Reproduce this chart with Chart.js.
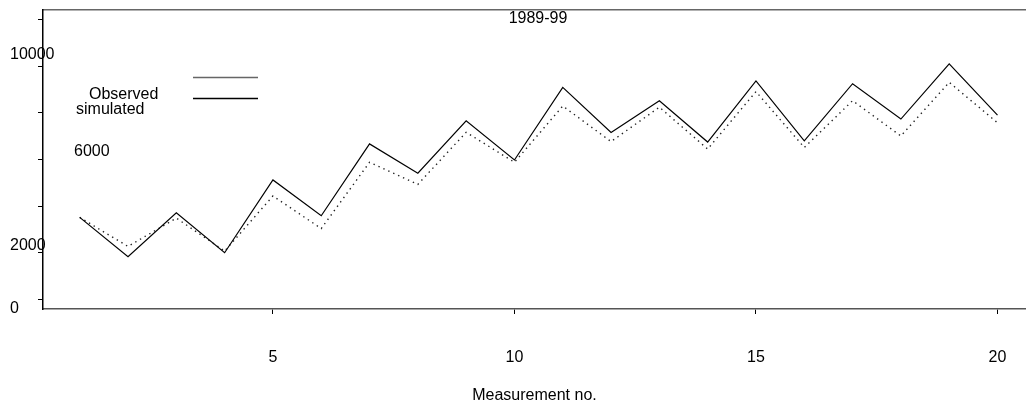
<!DOCTYPE html>
<html>
<head>
<meta charset="utf-8">
<script src="https://cdn.jsdelivr.net/npm/chart.js@4.4.1/dist/chart.umd.min.js"></script>
<style>
  html, body { margin: 0; padding: 0; background: #fff; overflow: hidden; }
</style>
</head>
<body>
<canvas id="grafico" width="1026" height="408"></canvas>
<script>
// medições 1..20, valores observados e simulados
const medicoes = [1, 2, 3, 4, 5, 6, 7, 8, 9, 10, 11, 12, 13, 14, 15, 16, 17, 18, 19, 20];
const observado = [3510, 1820, 3710, 1990, 5120, 3580, 6670, 5410, 7660, 5980,
                   9100, 7160, 8530, 6750, 9380, 6800, 9260, 7740, 10110, 7910];
const simulado = [3510, 2260, 3480, 2060, 4430, 3030, 5880, 4930, 7170, 5880,
                  8300, 6770, 8250, 6450, 8920, 6520, 8530, 7010, 9320, 7580];
const ticksX = [5, 10, 15, 20];
const ticksY = [0, 2000, 4000, 6000, 8000, 10000, 12000];
const rotulosY = ['10000', '6000', '2000', '0'];
const legenda = ['Observed', 'simulated'];
const titulo = '1989-99';
const tituloX = 'Measurement no.';

const fonte = '"Liberation Sans", Arial, sans-serif';
Chart.defaults.font.family = fonte;
Chart.defaults.font.size = 16;
Chart.defaults.color = '#000';

function pontos(valores) {
    return medicoes.map((m, i) => ({ x: m, y: valores[i] }));
}

// textos soltos: título, legenda e os números do eixo y
const textos = {
    id: 'textos',
    afterDraw(chart) {
        const ctx = chart.ctx;
        ctx.save();
        ctx.fillStyle = '#000';
        ctx.font = '16px ' + fonte;
        ctx.textBaseline = 'alphabetic';

        ctx.textAlign = 'center';
        ctx.fillText(titulo, 538, 23);

        ctx.textAlign = 'left';
        ctx.fillText(rotulosY[0], 10, 59);
        ctx.fillText(rotulosY[1], 74, 156);
        ctx.fillText(rotulosY[2], 10, 250);
        ctx.fillText(rotulosY[3], 10, 313);

        ctx.fillText(legenda[0], 89, 99);
        ctx.fillText(legenda[1], 76, 114);

        ctx.lineWidth = 1.3;
        ctx.strokeStyle = '#666';
        ctx.beginPath();
        ctx.moveTo(193, 77.5);
        ctx.lineTo(258, 77.5);
        ctx.stroke();
        ctx.strokeStyle = '#000';
        ctx.beginPath();
        ctx.moveTo(193, 98.5);
        ctx.lineTo(258, 98.5);
        ctx.stroke();
        ctx.restore();
    }
};

const grafico = new Chart(document.getElementById('grafico'), {
    type: 'line',
    data: {
        datasets: [{
            label: legenda[0],
            data: pontos(observado),
            borderColor: '#000',
            borderWidth: 1.2,
            pointRadius: 0,
            tension: 0
        }, {
            label: legenda[1],
            data: pontos(simulado),
            borderColor: '#222',
            borderWidth: 1.4,
            borderDash: [1.4, 4],
            pointRadius: 0,
            tension: 0
        }]
    },
    options: {
        responsive: false,
        animation: false,
        devicePixelRatio: 1,
        layout: { padding: { top: 10, left: 0, right: 0, bottom: 0 } },
        plugins: { legend: { display: false }, tooltip: { enabled: false } },
        scales: {
            x: {
                type: 'linear',
                position: 'bottom',
                min: 0.24,
                max: 20.59,
                afterBuildTicks: s => { s.ticks = ticksX.map(v => ({ value: v })); },
                afterFit: s => { s.height = 99; s.paddingLeft = 0; s.paddingRight = 0; },
                ticks: { padding: 34, maxRotation: 0, callback: v => String(v) },
                grid: { drawOnChartArea: false, drawTicks: true, tickLength: 5, color: '#000', lineWidth: 1 },
                border: { display: true, color: '#555', width: 1.5 },
                title: { display: true, text: tituloX, font: { size: 16 }, padding: { top: 0, bottom: 3 } }
            },
            topo: {
                type: 'linear',
                position: 'top',
                min: 0.24,
                max: 20.59,
                afterFit: s => { s.height = 0; s.paddingLeft = 0; s.paddingRight = 0; },
                ticks: { display: false },
                grid: { display: false, drawTicks: false },
                border: { display: true, color: '#666', width: 1.5 }
            },
            y: {
                type: 'linear',
                min: -430,
                max: 12430,
                afterBuildTicks: s => { s.ticks = ticksY.map(v => ({ value: v })); },
                afterFit: s => { s.width = 43; },
                ticks: { display: false },
                grid: { drawOnChartArea: false, drawTicks: true, tickLength: 5, color: '#000', lineWidth: 1 },
                border: { display: true, color: '#000', width: 1.5 }
            }
        }
    },
    plugins: [textos]
});
</script>
</body>
</html>
